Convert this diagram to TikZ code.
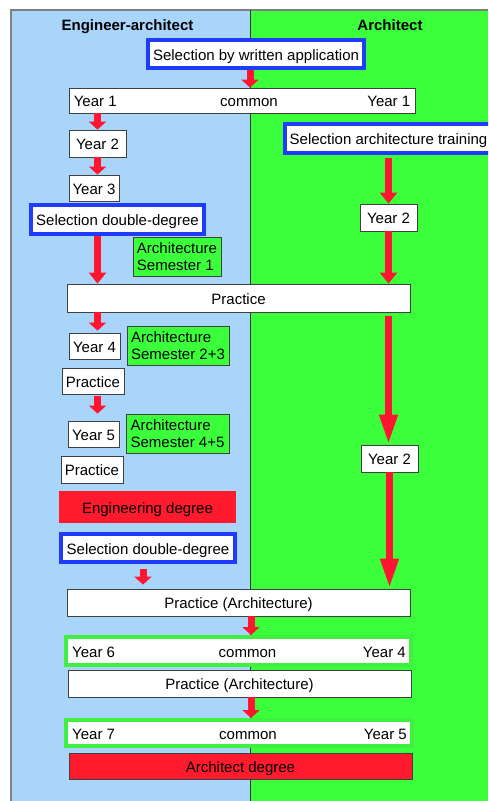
\documentclass[tikz,border=0pt]{standalone}
\usepackage{fontspec}
\setmainfont{Liberation Sans}
\usetikzlibrary{arrows.meta}
\definecolor{bgblue}{HTML}{AAD5FB}
\definecolor{bggreen}{HTML}{3CFF3C}
\definecolor{selblue}{HTML}{1E3CFA}
\definecolor{arrowred}{HTML}{FF1530}
\definecolor{degred}{HTML}{FF1A2E}
\definecolor{comgreen}{HTML}{40F040}
\tikzset{
  oneline/.style={text height=15pt, text depth=3pt},
  box/.style={draw=black!75, line width=0.8pt, fill=white, inner sep=0pt, oneline},
  selbox/.style={box, draw=selblue, line width=4pt},
  combox/.style={box, draw=comgreen, line width=4pt},
  sembox/.style={draw=black!75, line width=0.8pt, fill=bggreen, inner sep=0pt, align=left},
  degbox/.style={box, fill=degred},
  txt/.style={inner sep=0pt, oneline},
  head/.style={oneline, font=\fontsize{15}{17}\selectfont\bfseries},
  redarrow/.style={draw=arrowred, line width=7pt, -{Triangle[width=17pt,length=8pt]}},
  midarrow/.style={redarrow, -{Triangle[width=17pt,length=11pt]}},
  longarrow/.style={redarrow, -{Triangle[width=17pt,length=30pt]}}
}
\begin{document}
\begin{tikzpicture}[x=1pt,y=-1pt,every node/.style={font=\fontsize{15}{16.5}\selectfont}]
        \useasboundingbox (0,0) rectangle (488,801);
        \clip (0,0) rectangle (488,801);
        % columns
        \fill[bgblue] (11,10) rectangle (250,801);
        \fill[bggreen] (250,10) rectangle (488,801);
        \draw[black!50, line width=1.5pt] (11,801) -- (11,10) -- (488,10);
        \draw[black!80, line width=0.8pt] (250,10) -- (250,801);
        \node[head] (hdeng) at (127.5,24) {Engineer-architect};
        \node[head] (hdarch) at (390,24) {Architect};
        % common start
        \node[selbox, minimum width=216pt, minimum height=28pt] (sel1) at (256,54) {Selection by written application};
        \node[box, minimum width=346pt, minimum height=25pt] (y1) at (242,100.5) {};
        \node[txt, anchor=west] (y1l) at ([xshift=5pt]y1.west) {Year 1};
        \node[txt] (y1c) at (249,100.5) {common};
        \node[txt, anchor=east] (y1r) at ([xshift=-5pt]y1.east) {Year 1};
        % engineer-architect
        \node[box, minimum width=57pt, minimum height=27pt] (y2l) at (97.5,143.5) {Year 2};
        \node[box, minimum width=50pt, minimum height=26pt] (y3l) at (94,188) {Year 3};
        \node[selbox, minimum width=173pt, minimum height=29pt] (seldd1) at (117.5,219.5) {Selection double-degree};
        \node[sembox, minimum width=88pt, minimum height=39pt] (sem1) at (177,256.5) {Architecture\\Semester 1};
        \node[box, minimum width=343pt, minimum height=28pt] (prac1) at (238.5,298) {Practice};
        \node[box, minimum width=51pt, minimum height=26pt] (y4l) at (94.5,346) {Year 4};
        \node[sembox, minimum width=102pt, minimum height=39pt] (sem23) at (178,345.5) {Architecture\\Semester 2+3};
        \node[box, minimum width=62pt, minimum height=26pt] (prac2) at (93,381) {Practice};
        \node[box, minimum width=51pt, minimum height=26pt] (y5l) at (93.5,434) {Year 5};
        \node[sembox, minimum width=103pt, minimum height=39pt] (sem45) at (177.5,433.5) {Architecture\\Semester 4+5};
        \node[box, minimum width=62pt, minimum height=27pt] (prac3) at (92,469.5) {Practice};
        \node[degbox, draw=none, minimum width=177pt, minimum height=32pt] (engdeg) at (147.5,507) {Engineering degree};
        \node[selbox, minimum width=174pt, minimum height=28pt] (seldd2) at (148,548) {Selection double-degree};
        % architect
        \node[selbox, minimum width=207pt, minimum height=29pt] (selarch) at (388.5,138.5) {Selection architecture training};
        \node[box, minimum width=57pt, minimum height=27pt] (y2r) at (388.5,217.5) {Year 2};
        \node[box, minimum width=57pt, minimum height=27pt] (y2rb) at (389.5,458.5) {Year 2};
        % common end
        \node[box, minimum width=343pt, minimum height=27pt] (praca1) at (238.5,602.5) {Practice (Architecture)};
        \node[combox, minimum width=345pt, minimum height=28pt] (y6) at (238.5,651) {};
        \node[txt, anchor=west] (y6l) at ([xshift=8pt]y6.west) {Year 6};
        \node[txt] (y6c) at (247.5,651) {common};
        \node[txt, anchor=east] (y6r) at ([xshift=-7pt]y6.east) {Year 4};
        \node[box, minimum width=343pt, minimum height=27pt] (praca2) at (239.5,683.5) {Practice (Architecture)};
        \node[combox, minimum width=346pt, minimum height=26pt] (y7) at (239,733) {};
        \node[txt, anchor=west] (y7l) at ([xshift=8pt]y7.west) {Year 7};
        \node[txt] (y7c) at (248,733) {common};
        \node[txt, anchor=east] (y7r) at ([xshift=-7pt]y7.east) {Year 5};
        \node[degbox, minimum width=343pt, minimum height=26pt] (archdeg) at (240.5,766) {Architect degree};
        % arrows
        \draw[redarrow] ([xshift=-6pt]sel1.south) -- ([xshift=-6pt]sel1.south |- y1.north);
        \draw[redarrow] (y1.south -| y2l.north) -- (y2l.north);
        \draw[redarrow] (y2l.south) -- (y2l.south |- y3l.north);
        \draw[midarrow] (seldd1.south -| y2l.south) -- (prac1.north -| y2l.south);
        \draw[midarrow, shorten <=3pt] (selarch.south -| y2r.north) -- (y2r.north);
        \draw[midarrow] (y2r.south) -- (y2r.south |- prac1.north);
        \draw[redarrow, shorten >=2pt] (prac1.south -| y2l.south) -- (y2l.south |- y4l.north);
        \draw[longarrow, shorten <=4pt] (prac1.south -| y2r.south) -- (y2r.south |- y2rb.north);
        \draw[redarrow, shorten <=2pt, shorten >=7pt] (prac2.south -| y2l.south) -- (y2l.south |- y5l.north);
        \draw[longarrow] (y2rb.south) -- (y2rb.south |- praca1.north);
        \draw[redarrow, shorten <=5pt, shorten >=4pt] ([xshift=-5pt]seldd2.south) -- ([xshift=-5pt]seldd2.south |- praca1.north);
        \draw[redarrow] ([xshift=12.5pt]praca1.south) -- ([xshift=12.5pt]praca1.south |- y6.north);
        \draw[redarrow] ([xshift=11.5pt]praca2.south) -- ([xshift=11.5pt]praca2.south |- y7.north);
\end{tikzpicture}
\end{document}
